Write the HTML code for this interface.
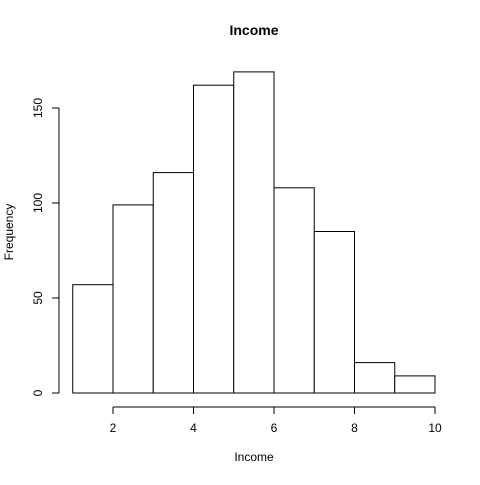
<!DOCTYPE html>
<html><head><meta charset="utf-8"><style>body{margin:0;background:#fff}svg{font-family:"Liberation Sans",sans-serif}</style></head>
<body>
<svg width="480" height="480" id="c">
<text x="254" y="35" text-anchor="middle" font-weight="bold" font-size="14">Income</text>
<text x="254" y="461" text-anchor="middle" font-size="12">Income</text>
<text transform="translate(13,232) rotate(-90)" text-anchor="middle" font-size="12">Frequency</text>
</svg>
<script>
const binEdges=[1,2,3,4,5,6,7,8,9,10];
const counts=[57,99,116,162,169,108,85,16,9];
const xTicks=[2,4,6,8,10];
const yTicks=[0,50,100,150];
const svg=document.getElementById('c');
const NS='http://www.w3.org/2000/svg';
const X=v=>113+(v-2)*40.25;
const Y=v=>393-v*1.9;
function mk(t,a){const e=document.createElementNS(NS,t);for(const k in a)e.setAttribute(k,a[k]);svg.appendChild(e);return e;}
counts.forEach((c,i)=>{
 const r=mk('rect',{x:X(binEdges[i]),y:Y(c),width:X(binEdges[i+1])-X(binEdges[i]),height:Y(0)-Y(c),fill:'#fff',stroke:'#000','stroke-width':1});
 
 
});
const xa=mk('line',{x1:X(xTicks[0]),x2:X(xTicks[xTicks.length-1]),y1:407,y2:407,stroke:'#000'});


xTicks.forEach(t=>{
 mk('line',{x1:X(t),x2:X(t),y1:407,y2:414,stroke:'#000'});
 const tx=mk('text',{x:X(t),y:432,'text-anchor':'middle','font-size':12});
 tx.textContent=t;
 
 
});
const ya=mk('line',{x1:59,x2:59,y1:Y(yTicks[0]),y2:Y(yTicks[yTicks.length-1]),stroke:'#000'});


yTicks.forEach(t=>{
 mk('line',{x1:52,x2:59,y1:Y(t),y2:Y(t),stroke:'#000'});
 const tx=mk('text',{transform:`translate(42,${Y(t)}) rotate(-90)`,'text-anchor':'middle','font-size':12});
 tx.textContent=t;
 
 
});
</script>
</body></html>
